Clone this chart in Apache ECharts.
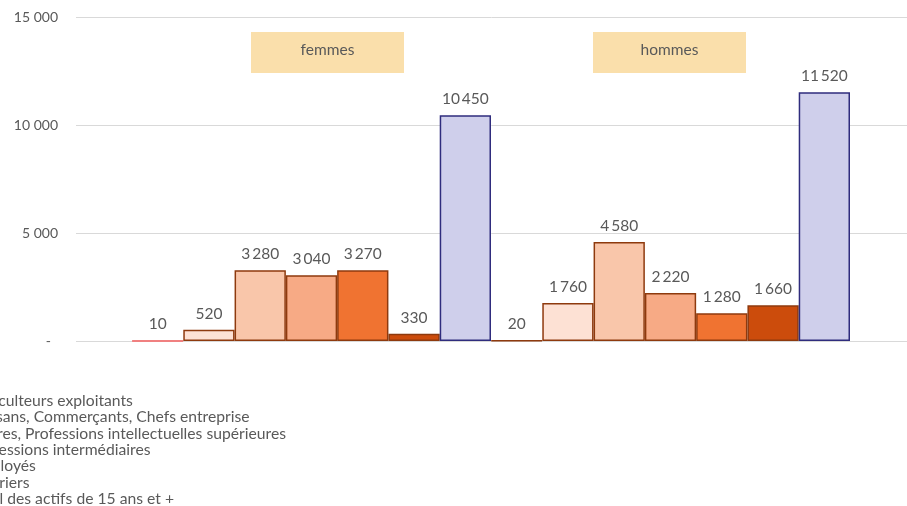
<!DOCTYPE html>
<html>
<head>
<meta charset="utf-8">
<script src="https://cdn.jsdelivr.net/npm/echarts@6/dist/echarts.min.js"></script>
<style>html,body{margin:0;padding:0;background:#fff;}#c{width:907px;height:506px;}</style>
</head>
<body>
<div id="c"></div>
<script>
const groups = ['femmes', 'hommes'];
const seriesNames = [
  'Agriculteurs exploitants',
  'Artisans, Commerçants, Chefs entreprise',
  'Cadres, Professions intellectuelles supérieures',
  'Professions intermédiaires',
  'Employés',
  'Ouvriers',
  'Total des actifs de 15 ans et +'
];
const femmesValues = [10, 520, 3280, 3040, 3270, 330, 10450];
const hommesValues = [20, 1760, 4580, 2220, 1280, 1660, 11520];
const yTicks = [0, 5000, 10000, 15000];

const fills = ['#cc4c0c', '#fde1d4', '#f9c6aa', '#f7aa85', '#f07331', '#cc4c0c', '#cfcfeb'];
const borders = ['#8e3a0e', '#8e3a0e', '#8e3a0e', '#8e3a0e', '#8e3a0e', '#8e3a0e', '#2f2c7d'];
const FONT = 'Lato';
const GREY = '#595959';

function fmt(v, sep) {
  return String(v).replace(/\B(?=(\d{3})+(?!\d))/g, sep);
}

const series = seriesNames.map((name, i) => ({
  name: name,
  type: 'bar',
  xAxisIndex: 1,
  yAxisIndex: 1,
  barGap: '0%',
  barCategoryGap: '0%',
  itemStyle: { color: fills[i], borderColor: borders[i], borderWidth: 1.5 },
  label: {
    show: true, position: 'top', distance: 8,
    color: GREY, fontFamily: FONT, fontSize: 15.5,
    formatter: p => fmt(p.value, '\u2009')
  },
  data: [
    i === 0 ? { value: femmesValues[i], itemStyle: { color: '#f08080', borderColor: '#f08080', borderWidth: 2 } } : femmesValues[i],
    hommesValues[i]
  ]
}));

const chart = echarts.init(document.getElementById('c'));
chart.setOption({
  animation: false,
  textStyle: { fontFamily: FONT },
  grid: [
    { left: 76, right: 0, top: 17, bottom: 165 },
    { left: 132, right: 57, top: 17, bottom: 165 }
  ],
  xAxis: [
    { type: 'category', gridIndex: 0, data: groups, show: false },
    { type: 'category', gridIndex: 1, data: groups, axisLine: { show: false }, axisTick: { show: false }, axisLabel: { show: false } }
  ],
  yAxis: [
    {
      type: 'value', gridIndex: 0, min: yTicks[0], max: yTicks[yTicks.length - 1], interval: 5000,
      axisLine: { show: false }, axisTick: { show: false },
      splitLine: { lineStyle: { color: '#d9d9d9', width: 1 } },
      axisLabel: {
        margin: 18, color: GREY, fontFamily: FONT, fontSize: 14,
        formatter: v => v === 0 ? '-  ' : fmt(v, ' ')
      }
    },
    {
      type: 'value', gridIndex: 1, min: yTicks[0], max: yTicks[yTicks.length - 1], interval: 5000,
      show: false
    }
  ],
  legend: {
    orient: 'vertical', left: -44, top: 393, height: 130, padding: 0,
    itemWidth: 8, itemHeight: 8, itemGap: 0.3,
    icon: 'rect',
    textStyle: { color: GREY, fontFamily: FONT, fontSize: 15.7, lineHeight: 16 },
    data: seriesNames
  },
  graphic: [
    { type: 'rect', shape: { x: 251, y: 32, width: 153, height: 41 }, style: { fill: '#fadfab' }, z: 10 },
    { type: 'text', x: 327.5, y: 50, style: { text: groups[0], fill: GREY, font: '15.5px Lato', textAlign: 'center', textVerticalAlign: 'middle' }, z: 11 },
    { type: 'rect', shape: { x: 593, y: 32, width: 153, height: 41 }, style: { fill: '#fadfab' }, z: 10 },
    { type: 'text', x: 669.5, y: 50, style: { text: groups[1], fill: GREY, font: '15.5px Lato', textAlign: 'center', textVerticalAlign: 'middle' }, z: 11 }
  ],
  series: series
});
</script>
</body>
</html>
